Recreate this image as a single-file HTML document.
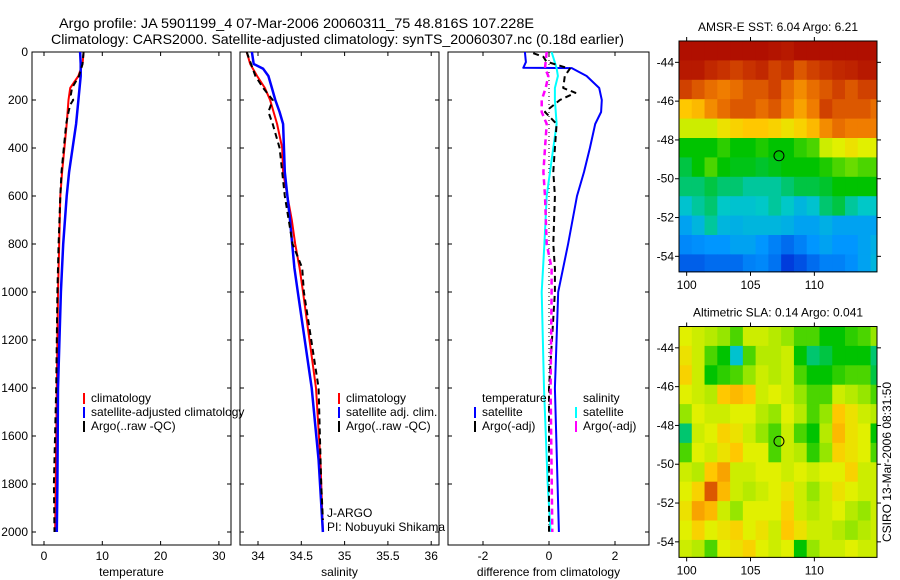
<!DOCTYPE html>
<html><head><meta charset="utf-8"><style>
html,body{margin:0;padding:0;background:#fff;}
svg{display:block;font-family:"Liberation Sans",Arial,sans-serif;}
</style></head><body>
<svg id="fig" width="900" height="580" viewBox="0 0 900 580">
<text x="59" y="28" font-size="14" textLength="475" lengthAdjust="spacingAndGlyphs">Argo profile: JA 5901199_4 07-Mar-2006 20060311_75 48.816S 107.228E</text>
<text x="51" y="44" font-size="14" textLength="573" lengthAdjust="spacingAndGlyphs">Climatology: CARS2000. Satellite-adjusted climatology: synTS_20060307.nc (0.18d earlier)</text>
<g id="g"></g>
</svg>
<script>
// ---------- data ----------
const depthTicks=[0,200,400,600,800,1000,1200,1400,1600,1800,2000];
const tempTicks=[0,10,20,30];
const salTicks=[34,34.5,35,35.5,36];
const salTickLabels=["34","34.5","35","35.5","36"];
const diffTicks=[-2,0,2];
// temperature profiles
const tClimDepth=[0,50,100,150,200,300,400,500,600,800,1000,1400,1800,2000];
const tClimVal=[6.8,6.6,5.9,4.5,4.2,3.9,3.5,3.1,2.8,2.6,2.4,2.2,2.0,1.9];
const tSatDepth=[0,50,100,200,300,400,500,600,800,1000,1400,1800,2000];
const tSatVal=[6.2,6.3,6.3,5.9,5.5,4.9,4.3,3.9,3.3,2.9,2.4,2.3,2.2];
const tArgoDepth=[0,50,100,150,180,200,220,250,300,400,500,600,800,1000,1400,1800,2000];
const tArgoVal=[6.8,6.6,6.0,4.8,4.6,5.0,4.5,4.2,3.8,3.4,3.0,2.8,2.5,2.3,2.1,1.7,1.8];
// salinity profiles
const sClimDepth=[0,50,100,150,200,300,400,500,600,700,800,900,1000,1400,1700,2000];
const sClimVal=[33.87,33.91,33.99,34.08,34.14,34.22,34.28,34.29,34.34,34.39,34.43,34.48,34.52,34.67,34.72,34.75];
const sSatDepth=[0,50,70,100,150,200,250,300,500,700,900,1000,1400,1700,2000];
const sSatVal=[33.93,33.95,34.06,34.12,34.16,34.2,34.25,34.29,34.31,34.37,34.42,34.46,34.62,34.7,34.75];
const sArgoDepth=[0,100,150,200,250,300,400,600,800,900,1000,1400,1800,1950];
const sArgoVal=[33.87,33.97,34.06,34.17,34.12,34.17,34.25,34.31,34.4,34.51,34.53,34.7,34.73,34.75];
// differences from climatology
const dTSatDepth=[0,42,66,67,100,150,200,250,300,400,500,600,800,1000,1400,2000];
const dTSatVal=[-0.73,-0.7,-0.78,0.69,1.14,1.52,1.6,1.58,1.4,1.24,1.06,0.85,0.58,0.28,0.18,0.3];
const dSSatDepth=[0,67,100,150,200,300,400,500,600,800,1000,1400,1800,2000];
const dSSatVal=[0.08,0.23,0.27,0.18,0.18,0.23,0.13,0.03,-0.07,-0.14,-0.22,-0.15,-0.04,0.05];
const dTArgoDepth=[5,20,40,70,100,150,170,200,250,300,400,500,600,800,900,1000,1400,2000];
const dTArgoVal=[-0.48,-0.17,-0.08,0.63,0.48,0.43,0.8,0.33,-0.12,0.23,0.18,0.13,0.18,0.13,0.18,0.18,0.0,0.0];
const dSArgoDepth=[0,67,100,150,200,250,300,400,500,600,800,900,1000,1400,2000];
const dSArgoVal=[-0.07,-0.12,-0.02,-0.1,-0.22,-0.22,-0.07,-0.12,-0.17,-0.12,-0.07,0.08,0.08,0.05,0.1];
// maps (colormap index 0..1), rows from north to south, 1-degree cells starting 99.4E
const lonTicks=[100,105,110];
const latTicks=[-44,-46,-48,-50,-52,-54];
const sstGrid=[
[0.97,0.97,0.97,0.97,0.97,0.97,0.97,0.96,0.95,0.97,0.97,0.97,0.97,0.97,0.97,0.97],
[0.95,0.95,0.92,0.9,0.88,0.9,0.92,0.88,0.9,0.85,0.88,0.9,0.92,0.93,0.95,0.95],
[0.88,0.85,0.82,0.8,0.82,0.85,0.85,0.88,0.82,0.78,0.82,0.85,0.88,0.85,0.88,0.88],
[0.7,0.72,0.78,0.82,0.85,0.85,0.82,0.85,0.8,0.75,0.8,0.88,0.85,0.85,0.85,0.82],
[0.6,0.6,0.6,0.65,0.68,0.7,0.7,0.68,0.65,0.68,0.72,0.78,0.82,0.8,0.8,0.8],
[0.45,0.45,0.45,0.48,0.45,0.45,0.47,0.45,0.45,0.48,0.5,0.6,0.62,0.65,0.62,0.62],
[0.42,0.45,0.5,0.45,0.44,0.44,0.43,0.44,0.45,0.45,0.45,0.47,0.5,0.52,0.5,0.5],
[0.4,0.4,0.42,0.4,0.4,0.38,0.38,0.38,0.4,0.42,0.42,0.43,0.45,0.45,0.45,0.45],
[0.35,0.38,0.4,0.36,0.35,0.35,0.36,0.38,0.36,0.33,0.35,0.4,0.42,0.38,0.36,0.36],
[0.3,0.33,0.38,0.33,0.32,0.33,0.33,0.33,0.32,0.3,0.3,0.32,0.3,0.3,0.3,0.3],
[0.26,0.27,0.28,0.28,0.3,0.3,0.28,0.25,0.22,0.25,0.28,0.3,0.28,0.28,0.3,0.32],
[0.2,0.2,0.22,0.22,0.22,0.25,0.26,0.23,0.15,0.18,0.22,0.25,0.25,0.27,0.3,0.33]];
const slaGrid=[
[0.62,0.6,0.58,0.55,0.5,0.6,0.6,0.58,0.55,0.5,0.5,0.45,0.45,0.48,0.5,0.55],
[0.65,0.6,0.5,0.45,0.35,0.5,0.58,0.58,0.6,0.45,0.4,0.42,0.45,0.45,0.45,0.4],
[0.68,0.6,0.45,0.48,0.5,0.55,0.6,0.58,0.6,0.5,0.45,0.45,0.48,0.5,0.5,0.42],
[0.62,0.6,0.58,0.7,0.72,0.7,0.6,0.62,0.6,0.55,0.5,0.5,0.6,0.58,0.55,0.5],
[0.55,0.62,0.6,0.6,0.62,0.62,0.58,0.55,0.62,0.58,0.5,0.55,0.7,0.65,0.6,0.58],
[0.4,0.6,0.62,0.68,0.65,0.6,0.55,0.5,0.6,0.5,0.45,0.58,0.72,0.65,0.62,0.45],
[0.5,0.62,0.6,0.65,0.7,0.62,0.62,0.5,0.6,0.58,0.48,0.55,0.68,0.65,0.62,0.5],
[0.6,0.58,0.7,0.75,0.6,0.6,0.62,0.62,0.6,0.62,0.6,0.62,0.62,0.68,0.6,0.6],
[0.62,0.68,0.85,0.72,0.6,0.58,0.6,0.62,0.65,0.6,0.55,0.6,0.65,0.62,0.6,0.6],
[0.65,0.75,0.72,0.6,0.55,0.62,0.62,0.62,0.68,0.6,0.58,0.6,0.62,0.58,0.55,0.6],
[0.62,0.68,0.62,0.65,0.68,0.62,0.65,0.6,0.7,0.65,0.6,0.6,0.58,0.55,0.58,0.6],
[0.6,0.58,0.5,0.62,0.65,0.68,0.62,0.6,0.62,0.45,0.55,0.6,0.6,0.62,0.6,0.6]];
const argoLon=107.228, argoLat=-48.816;

// ---------- drawing ----------
const NS="http://www.w3.org/2000/svg";
const G=document.getElementById('g');
function el(tag,attrs,parent){const e=document.createElementNS(NS,tag);for(const k in attrs)e.setAttribute(k,attrs[k]);(parent||G).appendChild(e);return e;}
const yD=d=>52+d*0.24;
const TOP=52,BOT=545;
const panels=[
 {name:'temperature',x0:32,x1:231,fx:v=>44+5.83*v,ticks:tempTicks,labels:tempTicks.map(String),xlabel:'temperature',left:true},
 {name:'salinity',x0:240,x1:439,fx:v=>258+86.6*(v-34),ticks:salTicks,labels:salTickLabels,xlabel:'salinity'},
 {name:'difference',x0:448,x1:649,fx:v=>549+33*v,ticks:diffTicks,labels:diffTicks.map(String),xlabel:'difference from climatology'}];
panels.forEach(p=>{
 const g=el('g',{});
 
 
 const r=el('rect',{x:p.x0,y:TOP,width:p.x1-p.x0,height:BOT-TOP,fill:'#fff',stroke:'#000','stroke-width':1},g);
 
 
 p.ticks.forEach((t,i)=>{const x=p.fx(t);
  el('line',{x1:x,x2:x,y1:BOT,y2:BOT-4,stroke:'#000'},g);
  el('line',{x1:x,x2:x,y1:TOP,y2:TOP+4,stroke:'#000'},g);
  const tx=el('text',{x:x,y:BOT+15,'font-size':12,'text-anchor':'middle'},g);tx.textContent=p.labels[i];
  
  
 });
 depthTicks.forEach(d=>{const y=yD(d);
  el('line',{x1:p.x0,x2:p.x0+4,y1:y,y2:y,stroke:'#000'},g);
  el('line',{x1:p.x1,x2:p.x1-4,y1:y,y2:y,stroke:'#000'},g);
  if(p.left){const tx=el('text',{x:28,y:y+4,'font-size':12,'text-anchor':'end'},g);tx.textContent=String(d);
   
   }
 });
 const xl=el('text',{x:(p.x0+p.x1)/2,y:576,'font-size':12,'text-anchor':'middle'},g);xl.textContent=p.xlabel;
 
 
});
function line(p,depths,vals,color,width,dash,name){
 const pts=depths.map((d,i)=>p.fx(vals[i]).toFixed(1)+','+yD(d).toFixed(1)).join(' ');
 const a={points:pts,fill:'none',stroke:color,'stroke-width':width,'stroke-linejoin':'round'};
 if(dash)a['stroke-dasharray']=dash;
 const e=el('polyline',a);
 
 
}
const [P1,P2,P3]=panels;
line(P1,tClimDepth,tClimVal,'#f00',2,null,'temp-climatology-line');
line(P1,tSatDepth,tSatVal,'#00f',2.5,null,'temp-satellite-line');
line(P1,tArgoDepth,tArgoVal,'#000',2,'6,4','temp-argo-line');
line(P2,sClimDepth,sClimVal,'#f00',2,null,'sal-climatology-line');
line(P2,sSatDepth,sSatVal,'#00f',2.5,null,'sal-satellite-line');
line(P2,sArgoDepth,sArgoVal,'#000',2,'6,4','sal-argo-line');
const z=el('line',{x1:P3.fx(0),x2:P3.fx(0),y1:yD(0),y2:yD(2000),stroke:'#000','stroke-dasharray':'1,3'});


line(P3,dTSatDepth,dTSatVal,'#00f',2,null,'diff-temp-satellite-line');
line(P3,dSSatDepth,dSSatVal,'#0ff',2,null,'diff-sal-satellite-line');
line(P3,dTArgoDepth,dTArgoVal,'#000',2,'6,4','diff-temp-argo-line');
line(P3,dSArgoDepth,dSArgoVal,'#f0f',2.5,'6,4','diff-sal-argo-line');
function leg(x,y,color,text,name){
 const g=el('g',{});
 
 
 if(color)el('line',{x1:x,x2:x,y1:y-9,y2:y+2,stroke:color,'stroke-width':2},g);
 const t=el('text',{x:x+7,y:y,'font-size':12},g);t.textContent=text;
}
leg(84,402,'#f00','climatology','legend-entry-climatology');
leg(84,416,'#00f','satellite-adjusted climatology','legend-entry-satellite');
leg(84,430,'#000','Argo(..raw -QC)','legend-entry-argo');
leg(339,402,'#f00','climatology','legend-entry-sal-climatology');
leg(339,416,'#00f','satellite adj. clim.','legend-entry-sal-satellite');
leg(339,430,'#000','Argo(..raw -QC)','legend-entry-sal-argo');
leg(475,402,null,'temperature','legend-heading-temperature');
leg(475,416,'#00f','satellite','legend-entry-diff-temp-satellite');
leg(475,430,'#000','Argo(-adj)','legend-entry-diff-temp-argo');
leg(576,402,null,'salinity','legend-heading-salinity');
leg(576,416,'#0ff','satellite','legend-entry-diff-sal-satellite');
leg(576,430,'#f0f','Argo(-adj)','legend-entry-diff-sal-argo');
const ja=el('text',{x:327,y:517,'font-size':12});ja.textContent='J-ARGO';


const pi=el('text',{x:327,y:531,'font-size':12});pi.textContent='PI: Nobuyuki Shikama';


el('rect',{x:448.5,y:500,width:8,height:40,fill:'#fff'});
el('line',{x1:448,x2:448,y1:500,y2:545,stroke:'#000'});
// colormap (stops matched to the reference image colours)
const cmStops=[0,0.15,0.28,0.36,0.45,0.55,0.62,0.7,0.8,0.9,1.0];
const cmColors=[[0,0,140],[0,60,220],[0,150,255],[0,200,200],[0,195,0],[150,230,0],[225,240,0],[255,200,0],[240,125,0],[200,50,0],[165,0,0]];
function cmap(v){v=Math.max(0,Math.min(1,v));
 let i=0;while(i<cmStops.length-2&&v>cmStops[i+1])i++;
 const t=(v-cmStops[i])/(cmStops[i+1]-cmStops[i]);
 const a=cmColors[i],b=cmColors[i+1];
 return 'rgb('+[0,1,2].map(k=>Math.round(a[k]+(b[k]-a[k])*t)).join(',')+')';}
function map(grid,top,title,name){
 const X0=679,X1=877,LON0=99.4,LAT0=-42.9,SX=12.77,SY=19.4;
 const bot=top+11.9*SY;
 const fx=l=>X0+(l-LON0)*SX, fy=l=>top+(LAT0-l)*SY;
 const g=el('g',{});
 
 
 grid.forEach((row,r)=>row.forEach((v,c)=>{
  const x=fx(LON0+c),y=fy(LAT0-r);
  const w=Math.min(fx(LON0+c+1),X1)-x, h=Math.min(fy(LAT0-r-1),bot)-y;
  const cell=el('rect',{x:x,y:y,width:w+0.5,height:h+0.5,fill:cmap(v)},g);
  
  
 }));
 el('rect',{x:X0,y:top,width:X1-X0,height:bot-top,fill:'none',stroke:'#000'},g);
 lonTicks.forEach(l=>{const x=fx(l);
  el('line',{x1:x,x2:x,y1:top,y2:top-4,stroke:'#000'},g);
  el('line',{x1:x,x2:x,y1:bot,y2:bot+4,stroke:'#000'},g);
  const t=el('text',{x:x,y:bot+17,'font-size':12,'text-anchor':'middle'},g);t.textContent=String(l);
  
  });
 latTicks.forEach(l=>{const y=fy(l);
  el('line',{x1:X0,x2:X0-4,y1:y,y2:y,stroke:'#000'},g);
  el('line',{x1:X1,x2:X1+4,y1:y,y2:y,stroke:'#000'},g);
  const t=el('text',{x:674,y:y+4,'font-size':12,'text-anchor':'end'},g);t.textContent=String(l);
  
  });
 const c=el('circle',{cx:fx(argoLon),cy:fy(argoLat),r:5,fill:'none',stroke:'#000'},g);
 
 
 const t=el('text',{x:778,y:top-10,'font-size':12,'text-anchor':'middle'},g);t.textContent=title;
 
 
}
map(sstGrid,41,'AMSR-E SST: 6.04 Argo: 6.21','sst-map');
map(slaGrid,326.5,'Altimetric SLA: 0.14 Argo: 0.041','sla-map');
const cs=el('text',{x:0,y:0,'font-size':12,'text-anchor':'middle',transform:'translate(891,462) rotate(-90)'});
cs.textContent='CSIRO 13-Mar-2006 08:31:50';


</script>
</body></html>
